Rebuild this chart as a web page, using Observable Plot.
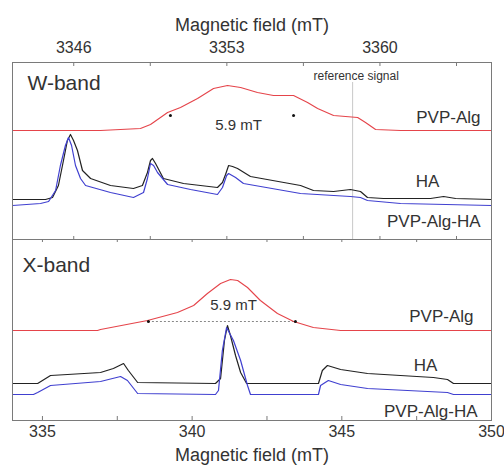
<!DOCTYPE html>
<html><head><meta charset="utf-8">
<script src="https://cdn.jsdelivr.net/npm/d3@7"></script>
<script src="https://cdn.jsdelivr.net/npm/@observablehq/plot@0.6"></script>
<style>
body{margin:0;background:#fff;}
#chart{position:relative;width:504px;height:466px;overflow:hidden;}
#chart svg{position:absolute;left:0;}
</style></head><body><div id="chart"></div>
<script>
// ---- tick labels ----
const wTicks = [3346, 3353, 3360];
const wMinorTicks = [3349.5, 3356.5, 3363.5];
const xTicks = [335, 340, 345, 350];
const xMinorTicks = [337.5, 342.5, 347.5];

// ---- W-band spectra (field mT, signal a.u. incl. offset) ----
const wAlgField = [3343.20,3347.22,3349.05,3349.51,3350.29,3350.88,3351.66,3352.39,3353.03,3353.63,3354.40,3355.13,3356.05,3356.69,3357.15,3357.88,3358.98,3359.34,3359.80,3360.94,3365.10];
const wAlgSignal = [109,109,111,115,127,132,141,151,154,152,147,144,144,137,131,124,122,117,110,109,109];

const wHaField = [3343.20,3344.71,3345.03,3345.30,3345.53,3345.71,3345.85,3345.99,3346.17,3346.40,3346.77,3347.68,3348.73,3349.14,3349.37,3349.51,3349.60,3349.74,3350.10,3351.02,3352.57,3352.80,3352.94,3353.08,3353.26,3353.49,3354.08,3356.37,3356.96,3357.88,3358.65,3359.11,3359.43,3360.16,3362.31,3362.91,3363.46,3365.10];
const wHaSignal = [40,40,42,54,79,99,105,99,89,69,61,54,51,54,67,79,81,76,61,56,52,57,65,74,73,71,63,54,49,48,50,48,42,41,41,43,41,40];

const wMixField = [3343.20,3344.48,3344.85,3345.17,3345.39,3345.62,3345.76,3345.90,3346.08,3346.31,3346.54,3347.68,3348.73,3349.19,3349.37,3349.51,3349.65,3349.83,3350.29,3351.34,3352.57,3352.80,3352.99,3353.08,3353.40,3353.76,3356.37,3358.65,3359.11,3359.43,3360.94,3365.10];
const wMixSignal = [34,36,38,49,74,94,102,94,74,61,54,47,42,47,61,76,74,67,55,50,45,52,64,66,62,56,46,43,42,39,36,34];

const wRefField = [3358.75];
const wWidthEnds = [3350.42, 3356.05];

// ---- X-band spectra ----
const xAlgField = [334.00,336.84,336.94,338.51,339.51,340.05,340.51,340.95,341.28,341.52,341.85,342.28,342.85,343.39,344.05,344.96,350.00];
const xAlgSignal = [90,90,91,100,108,115,127,137,141,140,133,120,107,99,93,90,90];

const xHaField = [334.00,334.84,335.27,335.84,336.94,337.37,337.71,337.87,338.18,340.78,340.95,341.08,341.18,341.28,341.45,341.62,341.82,344.22,344.35,344.52,344.96,345.86,348.06,348.53,348.73,350.00];
const xHaSignal = [37,37,45,46,48,52,57,50,38,37,42,80,95,85,65,48,37,37,50,55,51,47,43,41,37,37];

const xMixField = [334.00,334.70,334.84,335.27,336.94,337.61,337.84,338.18,340.78,340.88,341.01,341.15,341.38,341.62,341.85,341.95,344.22,344.29,344.55,344.96,345.86,348.53,348.73,350.00];
const xMixSignal = [26,26,28,35,39,44,40,27,26,30,70,93,80,60,35,26,26,35,40,36,32,28,26,26];

const xWidthEnds = [338.54, 343.45];

// ---- helpers ----
const rows = (xs, ys) => xs.map((f, i) => ({field: f, signal: ys[i]}));
const font = "'Liberation Sans', Arial, Helvetica, sans-serif";
const ink = "#333";
const frameCol = "#7a7a7a";
const red = "#e5444a", black = "#222", blue = "#4040d0";

function label(text, anchor, dx, dy, size, ta) {
  return Plot.text([text], {frameAnchor: anchor, dx, dy, fontSize: size, textAnchor: ta, lineAnchor: "middle", fill: ink});
}

const chart = document.getElementById("chart");

// ---- top panel: W-band ----
const topH = 240, topFrame = 177;
const topPlot = Plot.plot({
  width: 504, height: topH,
  marginLeft: 12, marginRight: 13, marginTop: 62, marginBottom: 1,
  x: {domain: [3343.2, 3365.1]},
  y: {domain: [0, topFrame], axis: null},
  style: {fontFamily: font, background: "transparent", color: ink, overflow: "visible"},
  marks: [
    Plot.ruleX(wRefField, {x: d => d, y1: 0, y2: 157, stroke: "#c8c8c8", strokeWidth: 1}),
    Plot.line(rows(wAlgField, wAlgSignal), {x: "field", y: "signal", stroke: red, strokeWidth: 1.1}),
    Plot.line(rows(wHaField, wHaSignal), {x: "field", y: "signal", stroke: black, strokeWidth: 1.2}),
    Plot.line(rows(wMixField, wMixSignal), {x: "field", y: "signal", stroke: blue, strokeWidth: 1.2}),
    Plot.dot(wWidthEnds, {x: d => d, y: 124, r: 1.5, fill: "#111", stroke: null}),
    Plot.frame({stroke: frameCol}),
    Plot.ruleX(wTicks.concat(wMinorTicks), {x: d => d, insetBottom: topFrame - 4, stroke: frameCol}),
    Plot.ruleX(wTicks.concat(wMinorTicks), {x: d => d, insetTop: topFrame - 3, stroke: frameCol}),
    Plot.axisX(wTicks, {anchor: "top", tickSize: 0, tickPadding: 15, lineAnchor: "middle", fontSize: 16, tickFormat: d3.format("d"), label: null, fill: ink}),
    Plot.text(["Magnetic field (mT)"], {frameAnchor: "top", dy: -37, fontSize: 18, lineAnchor: "middle", fill: ink}),
    label("W-band", "top-left", 15, 21, 21, "start"),
    label("reference signal", "top-left", 301, 14, 12, "start"),
    label("PVP-Alg", "top-right", -11, 55, 17, "end"),
    label("HA", "top-right", -64, 119, 17, "middle"),
    label("PVP-Alg-HA", "top-right", -11, 159, 17, "end"),
    label("5.9 mT", "top-left", 226, 63, 15, "middle")
  ]
});
topPlot.style.top = "0px";
chart.appendChild(topPlot);

// ---- bottom panel: X-band ----
const botH = 228, botFrame = 181;
const botPlot = Plot.plot({
  width: 504, height: botH,
  marginLeft: 12, marginRight: 13, marginTop: 1, marginBottom: 46,
  x: {domain: [334, 350]},
  y: {domain: [0, botFrame], axis: null},
  style: {fontFamily: font, background: "transparent", color: ink, overflow: "visible"},
  marks: [
    Plot.ruleY([99], {x1: xWidthEnds[0], x2: xWidthEnds[1], stroke: "#888", strokeDasharray: "2,2", strokeWidth: 1}),
    Plot.line(rows(xAlgField, xAlgSignal), {x: "field", y: "signal", stroke: red, strokeWidth: 1.1}),
    Plot.line(rows(xHaField, xHaSignal), {x: "field", y: "signal", stroke: black, strokeWidth: 1.2}),
    Plot.line(rows(xMixField, xMixSignal), {x: "field", y: "signal", stroke: blue, strokeWidth: 1.2}),
    Plot.dot(xWidthEnds, {x: d => d, y: 99, r: 1.5, fill: "#111", stroke: null}),
    Plot.frame({stroke: frameCol}),
    Plot.ruleX(xTicks.concat(xMinorTicks), {x: d => d, insetBottom: botFrame - 3, stroke: frameCol}),
    Plot.ruleX(xTicks.concat(xMinorTicks), {x: d => d, insetTop: botFrame - 4, stroke: frameCol}),
    Plot.axisX(xTicks, {anchor: "bottom", tickSize: 0, tickPadding: 11, lineAnchor: "middle", fontSize: 16, tickFormat: d3.format("d"), label: null, fill: ink}),
    Plot.text(["Magnetic field (mT)"], {frameAnchor: "bottom", dy: 35, fontSize: 18, lineAnchor: "middle", fill: ink}),
    label("X-band", "top-left", 10, 26, 21, "start"),
    label("5.9 mT", "top-left", 221, 66, 15, "middle"),
    label("PVP-Alg", "top-right", -18, 77, 17, "end"),
    label("HA", "top-right", -66, 126, 17, "middle"),
    label("PVP-Alg-HA", "top-right", -14, 172, 17, "end")
  ]
});
botPlot.style.top = "238px";
chart.appendChild(botPlot);
</script>
</body></html>
